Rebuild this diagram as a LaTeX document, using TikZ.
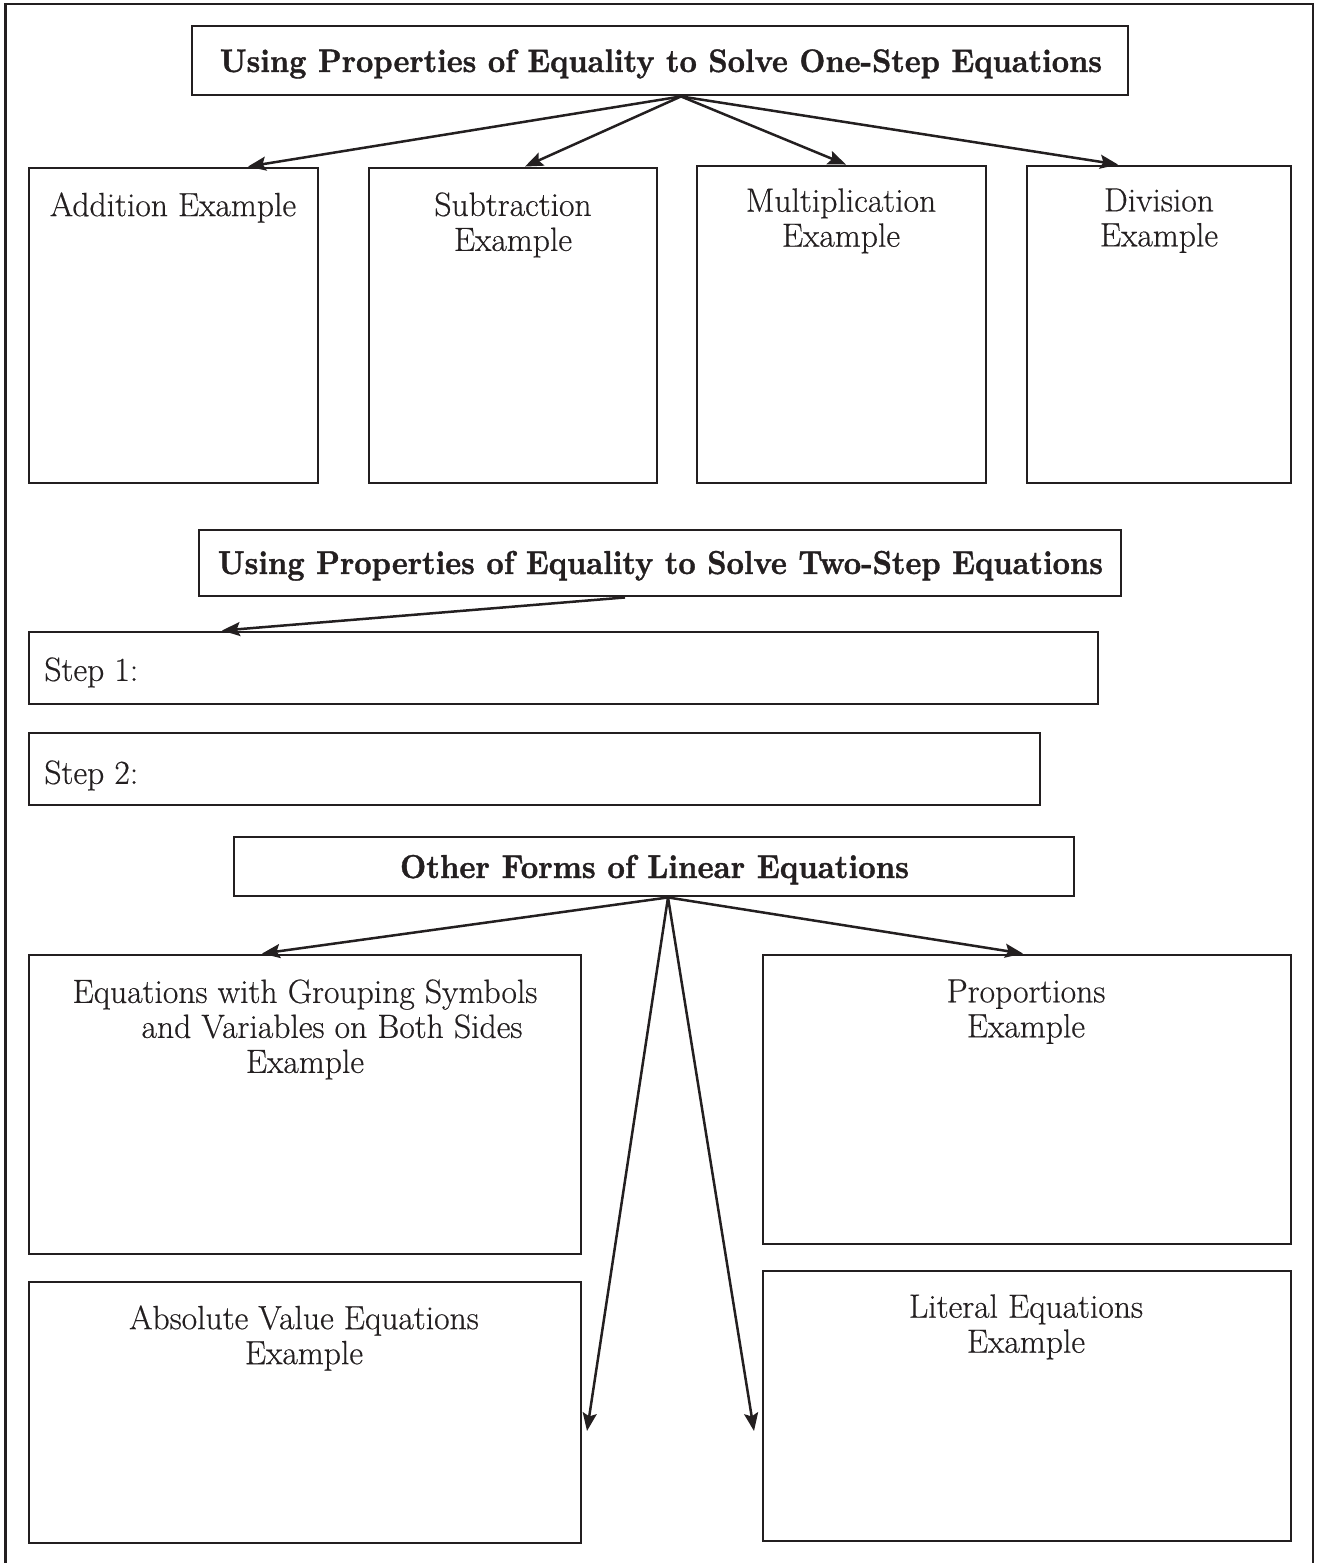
\documentclass[tikz,border=0pt]{standalone}
\usepackage{fontspec}
\usetikzlibrary{arrows.meta,fit}
\definecolor{ink}{RGB}{35,31,32}
% body text slightly heavier than plain Latin Modern
\newfontfamily\bodyfam{Latin Modern Roman}[FakeBold=0.5]
\newfontfamily\headfam{Latin Modern Roman}[BoldFeatures={FakeBold=1.2}]
\newcommand{\bodyfont}{\bodyfam\fontsize{16.8}{17.5}\selectfont}
\newcommand{\headtext}[3]{\resizebox{#1}{#2}{\headfam\bfseries #3}}
\begin{document}
\begin{tikzpicture}[x=0.5pt,y=-0.5pt,
  every path/.style={color=ink},
  box/.style={draw=ink, line width=1.45pt, inner sep=0pt},
  arr/.style={draw=ink, line width=1.25pt, -{Stealth[length=9pt,width=7pt,inset=1.6pt]}},
  lbl/.style={font=\bodyfont, text=ink, align=center, inner sep=0pt, anchor=north},
  head/.style={text=ink, inner sep=0pt, anchor=base}]
\useasboundingbox (0,0) rectangle (1319,1563);

% outer frame, open at the bottom
\draw[line width=1.45pt] (5.5,1563) -- (5.5,4) -- (1313,4) -- (1313,1563);

% ---------- one-step equations ----------
\node[box, fit={(192,26) (1128,95)}] (t1) {};
\node[head] (t1txt) at (661,72) {\headtext{441pt}{11.4pt}{Using Properties of Equality to Solve One-Step Equations}};

\node[box, fit={(29,168) (318,483)}] (add) {};
\node[box, fit={(369,168) (657,483)}] (sub) {};
\node[box, fit={(697,166) (986,483)}] (mul) {};
\node[box, fit={(1027,166) (1291,483)}] (div) {};

\node[lbl] (addtxt) at (173,192) {Addition Example};
\node[lbl] (subtxt) at (513,192) {Subtraction\\Example};
\node[lbl] (multxt) at (841,188) {Multiplication\\Example};
\node[lbl] (divtxt) at (1159,188) {Division\\Example};

\coordinate (s1) at (681,0);
\coordinate (xa) at (248,0);
\coordinate (xs) at (525,0);
\coordinate (xm) at (846,0);
\coordinate (xd) at (1118,0);
\draw[arr] (t1.south -| s1) -- (add.north -| xa);
\draw[arr] (t1.south -| s1) -- (sub.north -| xs);
\draw[arr] (t1.south -| s1) -- (mul.north -| xm);
\draw[arr] (t1.south -| s1) -- (div.north -| xd);

% ---------- two-step equations ----------
\node[box, fit={(199,530) (1121,596)}] (t2) {};
\node[head] (t2txt) at (660.5,574) {\headtext{442.5pt}{11.6pt}{Using Properties of Equality to Solve Two-Step Equations}};

\node[box, fit={(29,632) (1098,704)}] (st1) {};
\node[box, fit={(29,733) (1040,805)}] (st2) {};
\node[lbl, anchor=north west] (st1txt) at (44,657) {Step 1:};
\node[lbl, anchor=north west] (st2txt) at (44,760) {Step 2:};

\coordinate (s2) at (625,0);
\coordinate (x1) at (222,0);
\draw[arr] (t2.south -| s2) -- (st1.north -| x1);

% ---------- other forms ----------
\node[box, fit={(234,837) (1074,896)}] (t3) {};
\node[head] (t3txt) at (654.5,878) {\headtext{254.5pt}{11.6pt}{Other Forms of Linear Equations}};

\node[box, fit={(29,955) (581,1254)}] (grp) {};
\node[box, fit={(763,955) (1291,1244)}] (prop) {};
\node[box, fit={(29,1282) (581,1543)}] (absv) {};
\node[box, fit={(763,1271) (1291,1541)}] (lit) {};

\node[lbl] (grptxt) at (305,979) {Equations with Grouping Symbols\\\hspace*{27pt}and Variables on Both Sides\\Example};
\node[lbl] (proptxt) at (1026,979) {Proportions\\Example};
\node[lbl] (abstxt) at (304,1305) {Absolute Value Equations\\Example};
\node[lbl] (littxt) at (1026,1294) {Literal Equations\\Example};

\coordinate (s3) at (668,0);
\coordinate (xg) at (262,0);
\coordinate (xp) at (1023,0);
\coordinate (ea) at (587,1431);
\coordinate (el) at (754,1431);
\draw[arr] (t3.south -| s3) -- (grp.north -| xg);
\draw[arr] (t3.south -| s3) -- (prop.north -| xp);
\draw[arr] (t3.south -| s3) -- (ea);
\draw[arr] (t3.south -| s3) -- (el);
\end{tikzpicture}
\end{document}
